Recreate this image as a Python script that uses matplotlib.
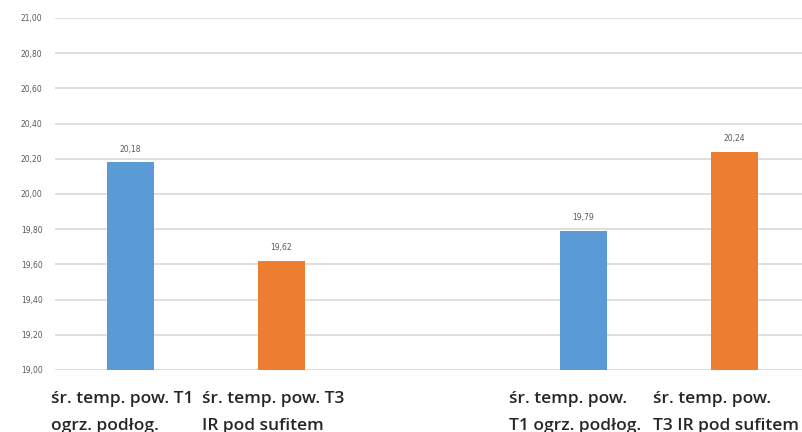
import matplotlib
matplotlib.use("Agg")
from matplotlib import pyplot as plt
from matplotlib.ticker import FuncFormatter
from matplotlib.transforms import ScaledTranslation

# Mean surface temperature for each heating setup
positions = [0, 1, 3, 4]
values = [20.18, 19.62, 19.79, 20.24]
labels = ["śr. temp. pow. T1\nogrz. podłog.",
          "śr. temp. pow. T3\nIR pod sufitem",
          "śr. temp. pow.\nT1 ogrz. podłog.",
          "śr. temp. pow.\nT3 IR pod sufitem"]
colors = ["#5B9BD5", "#ED7D31", "#5B9BD5", "#ED7D31"]
y_ticks = [19.0, 19.2, 19.4, 19.6, 19.8, 20.0, 20.2, 20.4, 20.6, 20.8, 21.0]

fig = plt.figure(figsize=(8.03, 4.32), dpi=100)
ax = fig.add_axes([55 / 803, 62 / 432, 755 / 803, 352 / 432])

ax.bar(positions, [v - 19.0 for v in values], bottom=19.0, width=0.31,
       color=colors, zorder=3)

for x, v in zip(positions, values):
    ax.text(x, v + 0.05, ("%.2f" % v).replace(".", ","), ha="center",
            va="bottom", fontsize=5.5, color="#595959")

ax.set_xlim(-0.5, 4.5)
ax.set_ylim(19.0, 21.0)
ax.set_yticks(y_ticks)
ax.yaxis.set_major_formatter(FuncFormatter(lambda v, p: ("%.2f" % v).replace(".", ",")))
ax.tick_params(axis="y", length=0, pad=9, labelsize=5.5, labelcolor="#595959")
ax.grid(axis="y", color="#D9D9D9", linewidth=1.2, zorder=0)

ax.set_xticks(positions)
ax.set_xticklabels(labels, fontsize=12.5, color="#262626", linespacing=1.95,
                   multialignment="left", fontfamily="Open Sans",
                   fontweight="semibold")
ax.tick_params(axis="x", length=0, pad=15)
# nudge category labels a little to the left
shift = ScaledTranslation(-8 / 100, 0, fig.dpi_scale_trans)
for lbl in ax.get_xticklabels():
    lbl.set_transform(lbl.get_transform() + shift)

for s in ax.spines.values():
    s.set_visible(False)

plt.savefig("out.png", dpi=100)
